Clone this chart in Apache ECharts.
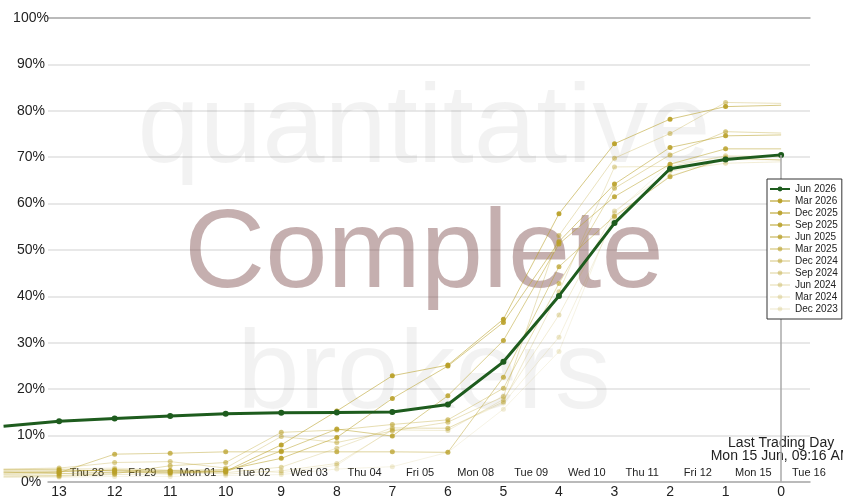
<!DOCTYPE html>
<html><head><meta charset="utf-8">
<script src="https://cdn.jsdelivr.net/npm/echarts@6/dist/echarts.min.js"></script>
<style>html,body{margin:0;padding:0;background:#fff;} #c{width:843px;height:500px;overflow:hidden;}</style>
</head><body><div id="c"></div>
<script>
// ---- data ----
const xPos = [14,13,12,11,10,9,8,7,6,5,4,3,2,1,0];
const xTickValues = [13,12,11,10,9,8,7,6,5,4,3,2,1,0];
const dayPos = [12.5,11.5,10.5,9.5,8.5,7.5,6.5,5.5,4.5,3.5,2.5,1.5,0.5,-0.5];
const dayLabels = ['Thu 28','Fri 29','Mon 01','Tue 02','Wed 03','Thu 04','Fri 05','Mon 08','Tue 09','Wed 10','Thu 11','Fri 12','Mon 15','Tue 16'];
const legendNames = ['Jun 2026','Mar 2026','Dec 2025','Sep 2025','Jun 2025','Mar 2025','Dec 2024','Sep 2024','Jun 2024','Mar 2024','Dec 2023'];
const jun2026 = [12.0,13.1,13.7,14.2,14.7,14.9,15.0,15.1,16.7,25.9,40.1,55.8,67.5,69.5,70.5];
const mar2026 = [2.6,2.6,2.4,2.2,2.3,8.0,15.3,22.9,25.2,35.1,57.8,72.9,78.2,80.9,81.2];
const dec2025 = [2.0,2.2,2.6,2.5,2.6,5.1,9.6,18.0,25.0,34.4,51.8,64.2,72.1,74.6,74.8];
const sep2025 = [1.7,1.8,2.1,2.0,2.2,6.7,11.4,9.9,18.6,30.5,51.3,61.5,68.5,71.8,71.8];
const jun2025 = [2.2,2.0,6.0,6.2,6.5,6.5,6.5,6.5,6.4,22.6,46.4,57.3,65.8,69.8,69.4];
const mar2025 = [1.3,1.4,1.8,3.5,4.2,10.7,11.2,12.4,13.4,20.2,42.8,63.3,70.5,75.5,75.2];
const dec2024 = [2.8,3.0,4.2,4.4,3.0,9.8,8.5,11.0,12.9,18.4,53.1,69.8,75.1,81.8,81.6];
const sep2024 = [1.1,1.2,1.6,1.8,2.0,3.2,7.3,11.7,11.6,17.3,41.0,67.9,68.0,70.3,70.1];
const jun2024 = [2.6,2.8,3.0,2.5,1.7,2.4,4.0,11.2,11.1,17.8,36.0,58.4,67.0,68.7,69.0];
const mar2024 = [2.2,2.3,2.8,1.6,2.8,2.0,3.6,11.4,11.6,17.0,31.2,57.0,66.0,69.5,69.4];
const dec2023 = [1.0,1.0,1.2,1.2,1.4,1.6,2.8,3.3,6.4,15.7,28.1,58.0,68.5,70.0,70.2];
const lastTradingText = 'Last Trading Day\nMon 15 Jun, 09:16 AM';

// ---- styles ----
const FONT = '"Liberation Sans", Arial, Helvetica, sans-serif';
const GOLD = '185,160,40';
const goldSets = [mar2026,dec2025,sep2025,jun2025,mar2025,dec2024,sep2024,jun2024,mar2024,dec2023];
const goldAlpha = [0.95,0.9,0.85,0.75,0.6,0.5,0.4,0.32,0.25,0.2];
const X_MIN = -0.52, X_MAX_PLOT = 14.01, X_MAX_GRID = 13.2;

const series = [];
for (let i = goldSets.length - 1; i >= 0; i--) {
  const a = goldAlpha[i];
  series.push({
    name: legendNames[i + 1], type: 'line', xAxisIndex: 0, yAxisIndex: 0, animation: false,
    data: xPos.map((x, j) => [x, goldSets[i][j]]),
    symbol: 'circle',
    symbolSize: v => (v[0] > 13 || v[0] === 0) ? 0 : 5,
    lineStyle: { width: 1, color: `rgba(${GOLD},${(a * 0.6).toFixed(3)})` },
    itemStyle: { color: `rgba(${GOLD},${a})` },
    emphasis: { disabled: true }, z: 3
  });
}
series.push({
  name: legendNames[0], type: 'line', xAxisIndex: 0, yAxisIndex: 0, animation: false,
  data: xPos.map((x, j) => [x, jun2026[j]]),
  symbol: 'circle',
  symbolSize: v => (v[0] > 13) ? 0 : 6,
  lineStyle: { width: 3, color: '#1e5c1e' },
  itemStyle: { color: '#1e5c1e' },
  emphasis: { disabled: true }, z: 4,
  markLine: {
    silent: true, symbol: ['none', 'none'], animation: false,
    label: { show: false },
    lineStyle: { color: '#aaaaaa', width: 1.5, type: 'solid' },
    data: [[{ coord: [0, jun2026[jun2026.length - 1]] }, { coord: [0, 0] }]]
  }
});

const chart = echarts.init(document.getElementById('c'), null, { width: 843, height: 500 });
chart.setOption({
  animation: false,
  backgroundColor: '#fff',
  textStyle: { fontFamily: FONT },
  grid: [
    { left: 3, right: 33, top: 18, bottom: 18, containLabel: false },
    { left: 48, right: 33, top: 18, bottom: 18, containLabel: false }
  ],
  xAxis: [
    { gridIndex: 0, type: 'value', inverse: true, min: X_MIN, max: X_MAX_PLOT, show: false },
    {
      gridIndex: 1, type: 'value', inverse: true, min: X_MIN, max: X_MAX_GRID,
      axisLine: { show: true, lineStyle: { color: '#aaaaaa', width: 1.5 } },
      axisTick: { show: false }, splitLine: { show: false },
      axisLabel: { customValues: xTickValues, fontSize: 14, color: '#222', margin: 3, fontFamily: FONT,
        formatter: v => String(v) }
    },
    {
      gridIndex: 1, type: 'value', inverse: true, min: X_MIN, max: X_MAX_GRID, position: 'bottom',
      axisLine: { show: false }, axisTick: { show: false }, splitLine: { show: false },
      axisLabel: { inside: true, customValues: dayPos, fontSize: 11, color: '#222', margin: 4, fontFamily: FONT,
        formatter: v => { const k = dayPos.indexOf(v); return k >= 0 ? dayLabels[k] : ''; } }
    },
    {
      gridIndex: 1, type: 'value', inverse: true, min: X_MIN, max: X_MAX_GRID, position: 'top',
      axisLine: { show: true, lineStyle: { color: '#aaaaaa', width: 1.5 } },
      axisTick: { show: false }, splitLine: { show: false }, axisLabel: { show: false }
    }
  ],
  yAxis: [
    { gridIndex: 0, type: 'value', min: 0, max: 100, show: false },
    {
      gridIndex: 1, type: 'value', min: 0, max: 100, interval: 10,
      axisLine: { show: false }, axisTick: { show: false },
      splitLine: { show: true, lineStyle: { color: '#e0e0e0', width: 1.5 } },
      axisLabel: { formatter: '{value}%', fontSize: 14, color: '#222', align: 'center', margin: 17,
        padding: [4, 0, 0, 0], fontFamily: FONT }
    }
  ],
  legend: {
    data: legendNames, orient: 'vertical', left: 767, top: 179,
    backgroundColor: '#fff', borderColor: '#333', borderWidth: 1,
    padding: [4, 4, 4, 2], itemGap: 0, itemWidth: 20, itemHeight: 6,
    textStyle: { fontSize: 10, color: '#222', lineHeight: 12, fontFamily: FONT },
    selectedMode: false, z: 10
  },
  graphic: [
    { type: 'text', id: 'wm1', z: 1, silent: true, x: 424, y: 131,
      style: { text: 'quantitative', font: '112px ' + FONT, fill: 'rgba(0,0,0,0.05)', align: 'center', verticalAlign: 'middle' } },
    { type: 'text', id: 'wm2', z: 1, silent: true, x: 424, y: 256,
      style: { text: 'Complete', font: '112px ' + FONT, fill: 'rgba(128,80,80,0.46)', align: 'center', verticalAlign: 'middle' } },
    { type: 'text', id: 'wm3', z: 1, silent: true, x: 424, y: 377,
      style: { text: 'brokers', font: '112px ' + FONT, fill: 'rgba(0,0,0,0.05)', align: 'center', verticalAlign: 'middle' } }
  ],
  series: series
});
const p = chart.convertToPixel({ xAxisIndex: 0, yAxisIndex: 0 }, [0, 0]);
chart.setOption({
  graphic: [
    { type: 'text', id: 'ltd', z: 5, silent: true, x: p[0], y: p[1] - 19,
      style: { text: lastTradingText, font: '14px ' + FONT, fill: '#222', align: 'center', verticalAlign: 'bottom', lineHeight: 13 } }
  ]
});
</script></body></html>
